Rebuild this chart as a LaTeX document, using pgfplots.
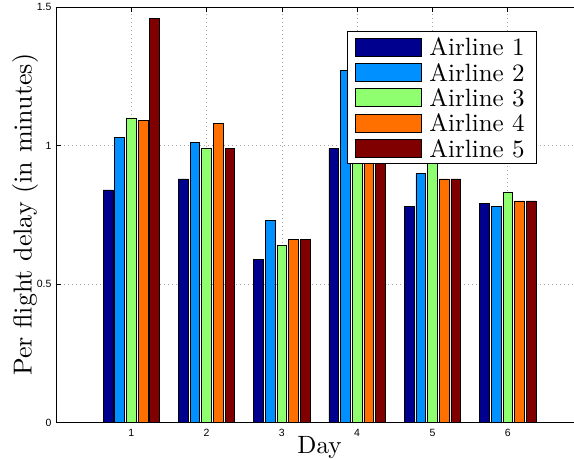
\documentclass[border=0pt]{standalone}
\usepackage{pgfplots}
\pgfplotsset{compat=1.18}
\usepackage{fontspec}
\setmainfont{lmroman10-regular.otf}
\newfontfamily\arial{Liberation Sans}
\definecolor{c1}{RGB}{0,0,143}
\definecolor{c2}{RGB}{0,144,255}
\definecolor{c3}{RGB}{143,255,112}
\definecolor{c4}{RGB}{255,112,0}
\definecolor{c5}{RGB}{128,0,0}
\pgfplotsset{
  mybar/.style={fill=#1, draw=black, line width=0.6pt,
    legend image code/.code={\draw[##1] (4pt,-9pt) rectangle (70pt,9pt); \path (74pt,0pt);}},
}
\begin{document}
\begin{tikzpicture}
\begin{axis}[
  name=ax,
  scale only axis,
  width=527pt, height=415.7pt,
  xmin=0, xmax=7, ymin=0, ymax=1.5,
  ybar, bar width=0.129,
  xtick={1,2,3,4,5,6}, ytick={0,0.5,1,1.5},
  tick align=inside, xtick pos=both, ytick pos=left,
  major tick length=5pt,
  tick style={black, line width=0.5pt},
  grid=major,
  major grid style={gray!70, line width=0.5pt, dash pattern=on 1pt off 3pt},
  axis line style={line width=0.8pt},
  /pgf/number format/assume math mode=true,
  ticklabel style={font=\arial\fontsize{10.5}{12}\selectfont},
  xticklabel style={yshift=-3pt},
  yticklabel style={xshift=-1pt},
  xlabel={Day}, ylabel={Per flight delay (in minutes)},
  xlabel style={font=\fontsize{25}{28}\selectfont, at={(axis description cs:0.5,-0.0753)}, anchor=base},
  ylabel style={font=\fontsize{26}{28}\selectfont, at={(axis description cs:-0.0461,0.5)}, anchor=base, rotate=0},
  legend style={at={(0.5516,0.9423)}, anchor=north west, draw=black,
    line width=0.8pt, fill=white, font=\fontsize{25}{25}\selectfont,
    inner xsep=8pt, inner ysep=3pt, row sep=0pt,
    nodes={inner sep=3.7pt, text depth=0pt}},
  legend cell align=left,
]
\addplot[mybar=c1, bar shift=-0.31] coordinates {(1,0.84) (2,0.88) (3,0.59) (4,0.99) (5,0.78) (6,0.79)};
\addplot[mybar=c2, bar shift=-0.155] coordinates {(1,1.03) (2,1.01) (3,0.73) (4,1.27) (5,0.90) (6,0.78)};
\addplot[mybar=c3, bar shift=0] coordinates {(1,1.10) (2,0.99) (3,0.64) (4,1.20) (5,1.00) (6,0.83)};
\addplot[mybar=c4, bar shift=0.155] coordinates {(1,1.09) (2,1.08) (3,0.66) (4,1.10) (5,0.88) (6,0.80)};
\addplot[mybar=c5, bar shift=0.31] coordinates {(1,1.46) (2,0.99) (3,0.66) (4,1.05) (5,0.88) (6,0.80)};
\legend{Airline 1\hspace{6pt}, Airline 2\hspace{6pt}, Airline 3\hspace{6pt}, Airline 4\hspace{6pt}, Airline 5\hspace{6pt}}
\end{axis}
\pgfresetboundingbox
\path ([xshift=-56pt,yshift=-37.3pt]ax.south west) rectangle ([xshift=518pt,yshift=7pt]ax.north west);
\end{tikzpicture}
\end{document}
